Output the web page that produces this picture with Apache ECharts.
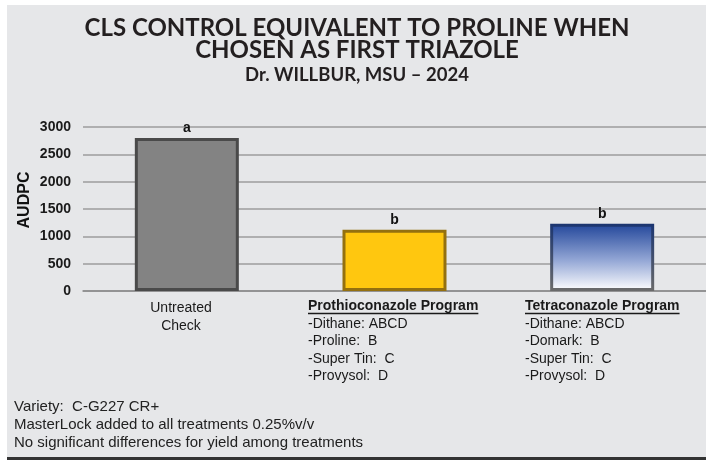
<!DOCTYPE html>
<html>
<head>
<meta charset="utf-8">
<title>CLS control</title>
<script src="https://cdn.jsdelivr.net/npm/echarts@6.0.0/dist/echarts.min.js"></script>
<style>
  html, body { margin: 0; padding: 0; background: #fff; }
  #main { width: 706px; height: 460px; }
</style>
</head>
<body>
<div id="main"></div>
<script>
// 数据
let categories = ["Untreated Check", "Prothioconazole Program", "Tetraconazole Program"];
let audpc = [2800, 1120, 1230];
let letters = ["a", "b", "b"];
let untreatedLines = ["Untreated", "Check"];
let prothioSteps = ["-Dithane: ABCD", "-Proline:  B", "-Super Tin:  C", "-Provysol:  D"];
let tetraSteps = ["-Dithane: ABCD", "-Domark:  B", "-Super Tin:  C", "-Provysol:  D"];
let notes = [
  "Variety:  C-G227 CR+",
  "MasterLock added to all treatments 0.25%v/v",
  "No significant differences for yield among treatments"
];

let FONT = '"Liberation Sans", Arial, sans-serif';

// 柱子样式
let barStyles = [
  { color: "#838383", borderColor: "#4a4a4a" },
  { color: "#ffc70f", borderColor: "#94700f" },
  {
    color: new echarts.graphic.LinearGradient(0, 0, 0, 1, [
      { offset: 0, color: "#22469a" },
      { offset: 0.55, color: "#95a8d6" },
      { offset: 1, color: "#ffffff" }
    ]),
    borderColor: new echarts.graphic.LinearGradient(0, 0, 0, 1, [
      { offset: 0, color: "#1b3570" },
      { offset: 1, color: "#6a6a6a" }
    ])
  }
];

let barData = audpc.map(function(v, i) {
  return {
    value: v,
    itemStyle: {
      color: barStyles[i].color,
      borderColor: barStyles[i].borderColor,
      borderWidth: 3
    },
    label: { formatter: letters[i] }
  };
});

// 量一下标题宽度, 用来画下划线
let ctx = document.createElement("canvas").getContext("2d");
ctx.font = "bold 14px " + FONT;
let prothioW = ctx.measureText(categories[1]).width;
let tetraW = ctx.measureText(categories[2]).width;

function programText(x, heading, steps) {
  return {
    type: "text",
    left: x,
    top: 299,
    style: {
      text: "{h|" + heading + "}\n" + steps.map(s => "{s|" + s + "}").join("\n"),
      rich: {
        h: { font: "bold 14px " + FONT, fill: "#1a1a1a", lineHeight: 18 },
        s: { font: "14px " + FONT, fill: "#1a1a1a", lineHeight: 17.5 }
      }
    }
  };
}

let myChart = echarts.init(document.getElementById("main"));

let option = {
  backgroundColor: "#ffffff",
  animation: false,
  grid: { left: 83, right: -3, top: 127, bottom: 169 },
  xAxis: {
    type: "category",
    data: categories,
    axisTick: { show: false },
    axisLabel: { show: false },
    axisLine: { lineStyle: { color: "#8a8a8a", width: 1.5 } }
  },
  yAxis: {
    type: "value",
    min: 0,
    max: 3000,
    interval: 500,
    axisLine: { show: false },
    axisTick: { show: false },
    axisLabel: {
      margin: 12,
      color: "#1a1a1a",
      fontSize: 14,
      fontWeight: "bold",
      fontFamily: FONT,
      formatter: v => String(v)
    },
    splitLine: { lineStyle: { color: "#9c9c9c", width: 1.5 } }
  },
  series: [
    {
      type: "bar",
      data: barData,
      barWidth: 104,
      label: {
        show: true,
        position: "top",
        distance: 3,
        color: "#111",
        fontSize: 14,
        fontWeight: "bold",
        fontFamily: FONT
      }
    }
  ],
  graphic: [
    // 背景
    { type: "rect", z: -10, shape: { x: 7, y: 5, width: 699, height: 455 }, style: { fill: "#333" } },
    { type: "rect", z: -9, shape: { x: 7, y: 5, width: 699, height: 452 }, style: { fill: "#e6e7e9" } },
    // 标题
    {
      type: "text",
      x: 357,
      y: 17,
      style: {
        text: "CLS CONTROL EQUIVALENT TO PROLINE WHEN\nCHOSEN AS FIRST TRIAZOLE",
        font: "bold 24px Lato, sans-serif",
        fill: "#231f20",
        align: "center",
        lineHeight: 22
      }
    },
    {
      type: "text",
      x: 357,
      y: 66,
      style: {
        text: "Dr. WILLBUR, MSU \u2013 2024",
        font: "bold 18.5px Lato, sans-serif",
        fill: "#231f20",
        align: "center"
      }
    },
    // y轴名字
    {
      type: "text",
      x: 25,
      y: 200,
      rotation: Math.PI / 2,
      style: {
        text: "AUDPC",
        font: "bold 16px " + FONT,
        fill: "#111",
        align: "center",
        verticalAlign: "middle"
      }
    },
    // x轴标签
    {
      type: "text",
      x: 181,
      y: 299,
      style: {
        text: untreatedLines.join("\n"),
        font: "14px " + FONT,
        fill: "#1a1a1a",
        align: "center",
        lineHeight: 18
      }
    },
    programText(308, categories[1], prothioSteps),
    programText(525, categories[2], tetraSteps),
    { type: "line", shape: { x1: 308, y1: 313.5, x2: 308 + prothioW, y2: 313.5 }, style: { stroke: "#1a1a1a", lineWidth: 1.3 } },
    { type: "line", shape: { x1: 525, y1: 313.5, x2: 525 + tetraW, y2: 313.5 }, style: { stroke: "#1a1a1a", lineWidth: 1.3 } },
    // 备注
    {
      type: "text",
      left: 14,
      top: 398,
      style: { text: notes.join("\n"), font: "15px " + FONT, fill: "#222", lineHeight: 18 }
    }
  ]
};

myChart.setOption(option);
</script>
</body>
</html>
